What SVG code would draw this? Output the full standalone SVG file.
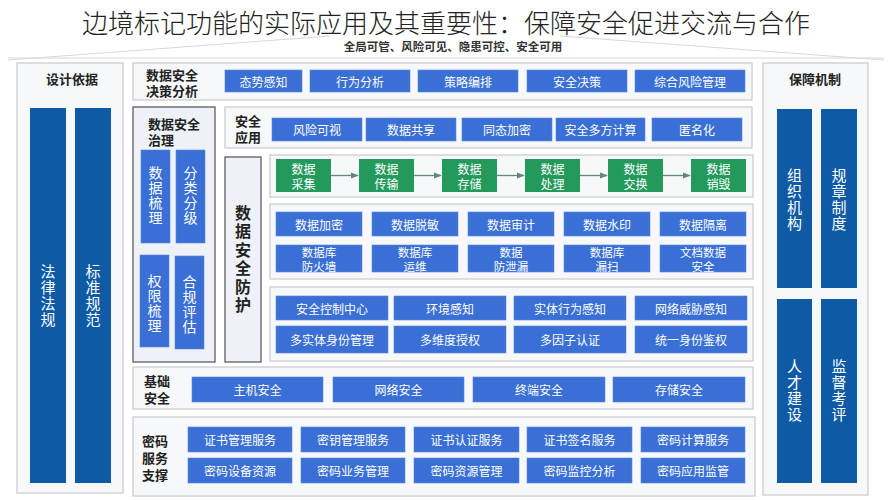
<svg xmlns="http://www.w3.org/2000/svg" width="892" height="500" viewBox="0 0 892 500">
<defs>
<style>
.f{font-family:"Noto Sans CJK SC","Noto Sans",sans-serif}
.panel{fill:#f7f8fa;stroke:#c6cad0;stroke-width:1.2}
.dpanel{fill:#eef2f8;stroke:#505050;stroke-width:1.2}
.b{fill:#3a6fd5;stroke:#5b86dc;stroke-width:0.6}
.g{fill:#23995b}
.d{fill:#0e5aa5}
.t{font-family:"Noto Sans CJK SC","Noto Sans",sans-serif;font-size:12px;fill:#fff;text-anchor:middle;dominant-baseline:central}
.t2{font-size:11.5px}
.v{font-family:"Noto Sans CJK SC","Noto Sans",sans-serif;font-size:14px;fill:#fff;text-anchor:middle;writing-mode:vertical-rl;letter-spacing:1px}
.v15{font-size:15px;letter-spacing:1px}
.h{font-family:"Noto Sans CJK SC","Noto Sans",sans-serif;font-size:13px;font-weight:bold;fill:#222;dominant-baseline:central}
.hc{text-anchor:middle}
.hv{font-family:"Noto Sans CJK SC","Noto Sans",sans-serif;font-size:16px;font-weight:bold;fill:#222;text-anchor:middle;writing-mode:vertical-rl;letter-spacing:2.5px}
.conn{stroke:#5f8a73;stroke-width:1.3;fill:none;marker-end:url(#ah)}
</style>
<marker id="ah" viewBox="0 0 10 10" refX="9" refY="5" markerWidth="6" markerHeight="6" orient="auto">
<path d="M0,1 L10,5 L0,9 z" fill="#5f8a73"/>
</marker>
</defs>
<rect width="892" height="500" fill="#ffffff"/>

<!-- roof -->
<g id="header" fill="none" stroke="#d4d8dc" stroke-width="1">
<path d="M8,60 L330,36"/>
<path d="M884,60 L560,36"/>
<path d="M8,58 L884,58"/>
</g>
<text x="446" y="21" class="f" font-size="26" font-weight="300" fill="#222" text-anchor="middle" dominant-baseline="central">边境标记功能的实际应用及其重要性：保障安全促进交流与合作</text>
<text x="453" y="46" class="f" font-size="11.5" font-weight="bold" fill="#333" text-anchor="middle" dominant-baseline="central">全局可管、风险可见、隐患可控、安全可用</text>

<!-- left panel -->
<g id="design-basis">
<rect class="panel" x="17" y="63" width="106" height="430"/>
<text class="h hc" x="72" y="78" font-size="15">设计依据</text>
<g id="law">
<rect class="d" x="30" y="108" width="36" height="375"/>
<text class="v v15" x="48" y="296">法律法规</text>
</g>
<g id="standard">
<rect class="d" x="75" y="108" width="36" height="375"/>
<text class="v v15" x="93" y="296">标准规范</text>
</g>
</g>

<!-- right panel -->
<g id="guarantee">
<rect class="panel" x="763" y="63" width="105" height="432"/>
<text class="h hc" x="815" y="78" font-size="15">保障机制</text>
<g id="org">
<rect class="d" x="777" y="109" width="35" height="179"/>
<text class="v v15" x="794.5" y="200">组织机构</text>
</g>
<g id="rules">
<rect class="d" x="821" y="109" width="36" height="179"/>
<text class="v v15" x="839" y="200">规章制度</text>
</g>
<g id="talent">
<rect class="d" x="777" y="299" width="35" height="184"/>
<text class="v v15" x="794.5" y="391">人才建设</text>
</g>
<g id="supervise">
<rect class="d" x="821" y="299" width="36" height="184"/>
<text class="v v15" x="839" y="391">监督考评</text>
</g>
</g>

<!-- decision analysis -->
<g id="decision">
<rect class="panel" x="133" y="63" width="619" height="37"/>
<text class="h" x="146"><tspan x="146" y="74">数据安全</tspan><tspan x="146" y="90">决策分析</tspan></text>
<g id="d1"><rect class="b" x="225" y="70" width="77" height="22"/><text class="t" x="263.5" y="81">态势感知</text></g>
<g id="d2"><rect class="b" x="310" y="70" width="100" height="22"/><text class="t" x="360" y="81">行为分析</text></g>
<g id="d3"><rect class="b" x="418" y="70" width="100" height="22"/><text class="t" x="468" y="81">策略编排</text></g>
<g id="d4"><rect class="b" x="527" y="70" width="100" height="22"/><text class="t" x="577" y="81">安全决策</text></g>
<g id="d5"><rect class="b" x="635" y="70" width="110" height="22"/><text class="t" x="690" y="81">综合风险管理</text></g>
</g>

<!-- governance -->
<g id="governance">
<rect class="dpanel" x="133" y="107" width="82" height="255"/>
<text class="h" x="148"><tspan x="148" y="123">数据安全</tspan><tspan x="148" y="139">治理</tspan></text>
<g id="g1"><rect class="b" x="141" y="150" width="29" height="93"/><text class="v" x="155.5" y="196">数据梳理</text></g>
<g id="g2"><rect class="b" x="176" y="150" width="29" height="93"/><text class="v" x="190.5" y="196">分类分级</text></g>
<g id="g3"><rect class="b" x="140" y="255" width="29" height="92"/><text class="v" x="154.5" y="304">权限梳理</text></g>
<g id="g4"><rect class="b" x="175" y="256" width="29" height="93"/><text class="v" x="189.5" y="305">合规评估</text></g>
</g>

<!-- security application -->
<g id="application">
<rect class="panel" x="225" y="107" width="527" height="41"/>
<text class="h hc" x="248"><tspan x="248" y="120">安全</tspan><tspan x="248" y="136">应用</tspan></text>
<g id="a1"><rect class="b" x="272" y="118" width="90" height="23"/><text class="t" x="317" y="129.5">风险可视</text></g>
<g id="a2"><rect class="b" x="366" y="118" width="90" height="23"/><text class="t" x="411" y="129.5">数据共享</text></g>
<g id="a3"><rect class="b" x="462" y="118" width="90" height="23"/><text class="t" x="507" y="129.5">同态加密</text></g>
<g id="a4"><rect class="b" x="556" y="118" width="89" height="23"/><text class="t" x="600.5" y="129.5">安全多方计算</text></g>
<g id="a5"><rect class="b" x="652" y="118" width="90" height="23"/><text class="t" x="697" y="129.5">匿名化</text></g>
</g>

<!-- protection label -->
<g id="protection">
<rect class="dpanel" x="225" y="157" width="36" height="205"/>
<text class="hv" x="243" y="260">数据安全防护</text>
</g>

<!-- lifecycle -->
<g id="lifecycle">
<rect class="panel" x="270" y="155" width="483" height="42"/>
<g id="l1"><rect class="g" x="276" y="159" width="55" height="33"/><text class="t"><tspan x="303.5" y="168">数据</tspan><tspan x="303.5" y="183">采集</tspan></text></g>
<g id="l2"><rect class="g" x="359" y="159" width="55" height="33"/><text class="t"><tspan x="386.5" y="168">数据</tspan><tspan x="386.5" y="183">传输</tspan></text></g>
<g id="l3"><rect class="g" x="442" y="159" width="55" height="33"/><text class="t"><tspan x="469.5" y="168">数据</tspan><tspan x="469.5" y="183">存储</tspan></text></g>
<g id="l4"><rect class="g" x="525" y="159" width="55" height="33"/><text class="t"><tspan x="552.5" y="168">数据</tspan><tspan x="552.5" y="183">处理</tspan></text></g>
<g id="l5"><rect class="g" x="608" y="159" width="55" height="33"/><text class="t"><tspan x="635.5" y="168">数据</tspan><tspan x="635.5" y="183">交换</tspan></text></g>
<g id="l6"><rect class="g" x="691" y="159" width="55" height="33"/><text class="t"><tspan x="718.5" y="168">数据</tspan><tspan x="718.5" y="183">销毁</tspan></text></g>
</g>
<g id="connectors">
<path class="conn" d="M331,175.5 L358,175.5"/>
<path class="conn" d="M414,175.5 L441,175.5"/>
<path class="conn" d="M497,175.5 L524,175.5"/>
<path class="conn" d="M580,175.5 L607,175.5"/>
<path class="conn" d="M663,175.5 L690,175.5"/>
</g>

<!-- data protection tools -->
<g id="data-tools">
<rect class="panel" x="270" y="204" width="483" height="75"/>
<g id="p1"><rect class="b" x="276" y="212" width="86" height="24"/><text class="t" x="319" y="224">数据加密</text></g>
<g id="p2"><rect class="b" x="372" y="212" width="86" height="24"/><text class="t" x="415" y="224">数据脱敏</text></g>
<g id="p3"><rect class="b" x="468" y="212" width="86" height="24"/><text class="t" x="511" y="224">数据审计</text></g>
<g id="p4"><rect class="b" x="564" y="212" width="86" height="24"/><text class="t" x="607" y="224">数据水印</text></g>
<g id="p5"><rect class="b" x="660" y="212" width="86" height="24"/><text class="t" x="703" y="224">数据隔离</text></g>
<g id="p6"><rect class="b" x="276" y="245" width="86" height="27"/><text class="t t2"><tspan x="319" y="251.5">数据库</tspan><tspan x="319" y="265.5">防火墙</tspan></text></g>
<g id="p7"><rect class="b" x="372" y="245" width="86" height="27"/><text class="t t2"><tspan x="415" y="251.5">数据库</tspan><tspan x="415" y="265.5">运维</tspan></text></g>
<g id="p8"><rect class="b" x="468" y="245" width="86" height="27"/><text class="t t2"><tspan x="511" y="251.5">数据</tspan><tspan x="511" y="265.5">防泄漏</tspan></text></g>
<g id="p9"><rect class="b" x="564" y="245" width="86" height="27"/><text class="t t2"><tspan x="607" y="251.5">数据库</tspan><tspan x="607" y="265.5">漏扫</tspan></text></g>
<g id="p10"><rect class="b" x="660" y="245" width="86" height="27"/><text class="t t2"><tspan x="703" y="251.5">文档数据</tspan><tspan x="703" y="265.5">安全</tspan></text></g>
</g>

<!-- control tools -->
<g id="control-tools">
<rect class="panel" x="270" y="287" width="483" height="74"/>
<g id="c1"><rect class="b" x="276" y="296" width="112" height="24"/><text class="t" x="332" y="308">安全控制中心</text></g>
<g id="c2"><rect class="b" x="394" y="296" width="112" height="24"/><text class="t" x="450" y="308">环境感知</text></g>
<g id="c3"><rect class="b" x="514" y="296" width="112" height="24"/><text class="t" x="570" y="308">实体行为感知</text></g>
<g id="c4"><rect class="b" x="635" y="296" width="112" height="24"/><text class="t" x="691" y="308">网络威胁感知</text></g>
<g id="c5"><rect class="b" x="276" y="326" width="112" height="27"/><text class="t" x="332" y="339.5">多实体身份管理</text></g>
<g id="c6"><rect class="b" x="394" y="326" width="112" height="27"/><text class="t" x="450" y="339.5">多维度授权</text></g>
<g id="c7"><rect class="b" x="514" y="326" width="112" height="27"/><text class="t" x="570" y="339.5">多因子认证</text></g>
<g id="c8"><rect class="b" x="635" y="326" width="112" height="27"/><text class="t" x="691" y="339.5">统一身份鉴权</text></g>
</g>

<!-- base security -->
<g id="base">
<rect class="panel" x="133" y="367" width="620" height="42"/>
<text class="h hc" x="157"><tspan x="157" y="380">基础</tspan><tspan x="157" y="397">安全</tspan></text>
<g id="s1"><rect class="b" x="192" y="377" width="131" height="25"/><text class="t" x="257.5" y="389.5">主机安全</text></g>
<g id="s2"><rect class="b" x="333" y="377" width="131" height="25"/><text class="t" x="398.5" y="389.5">网络安全</text></g>
<g id="s3"><rect class="b" x="473" y="377" width="132" height="25"/><text class="t" x="539" y="389.5">终端安全</text></g>
<g id="s4"><rect class="b" x="613" y="377" width="132" height="25"/><text class="t" x="679" y="389.5">存储安全</text></g>
</g>

<!-- crypto services -->
<g id="crypto">
<rect class="panel" x="133" y="417" width="622" height="79"/>
<text class="h hc" x="155"><tspan x="155" y="440">密码</tspan><tspan x="155" y="457">服务</tspan><tspan x="155" y="474">支撑</tspan></text>
<g id="k1"><rect class="b" x="188" y="427" width="104" height="25"/><text class="t" x="240" y="439.5">证书管理服务</text></g>
<g id="k2"><rect class="b" x="301" y="427" width="104" height="25"/><text class="t" x="353" y="439.5">密钥管理服务</text></g>
<g id="k3"><rect class="b" x="414" y="427" width="105" height="25"/><text class="t" x="466.5" y="439.5">证书认证服务</text></g>
<g id="k4"><rect class="b" x="527" y="427" width="105" height="25"/><text class="t" x="579.5" y="439.5">证书签名服务</text></g>
<g id="k5"><rect class="b" x="641" y="427" width="104" height="25"/><text class="t" x="693" y="439.5">密码计算服务</text></g>
<g id="k6"><rect class="b" x="188" y="458" width="104" height="25"/><text class="t" x="240" y="470.5">密码设备资源</text></g>
<g id="k7"><rect class="b" x="301" y="458" width="104" height="25"/><text class="t" x="353" y="470.5">密码业务管理</text></g>
<g id="k8"><rect class="b" x="414" y="458" width="105" height="25"/><text class="t" x="466.5" y="470.5">密码资源管理</text></g>
<g id="k9"><rect class="b" x="527" y="458" width="105" height="25"/><text class="t" x="579.5" y="470.5">密码监控分析</text></g>
<g id="k10"><rect class="b" x="641" y="458" width="104" height="25"/><text class="t" x="693" y="470.5">密码应用监管</text></g>
</g>
</svg>
